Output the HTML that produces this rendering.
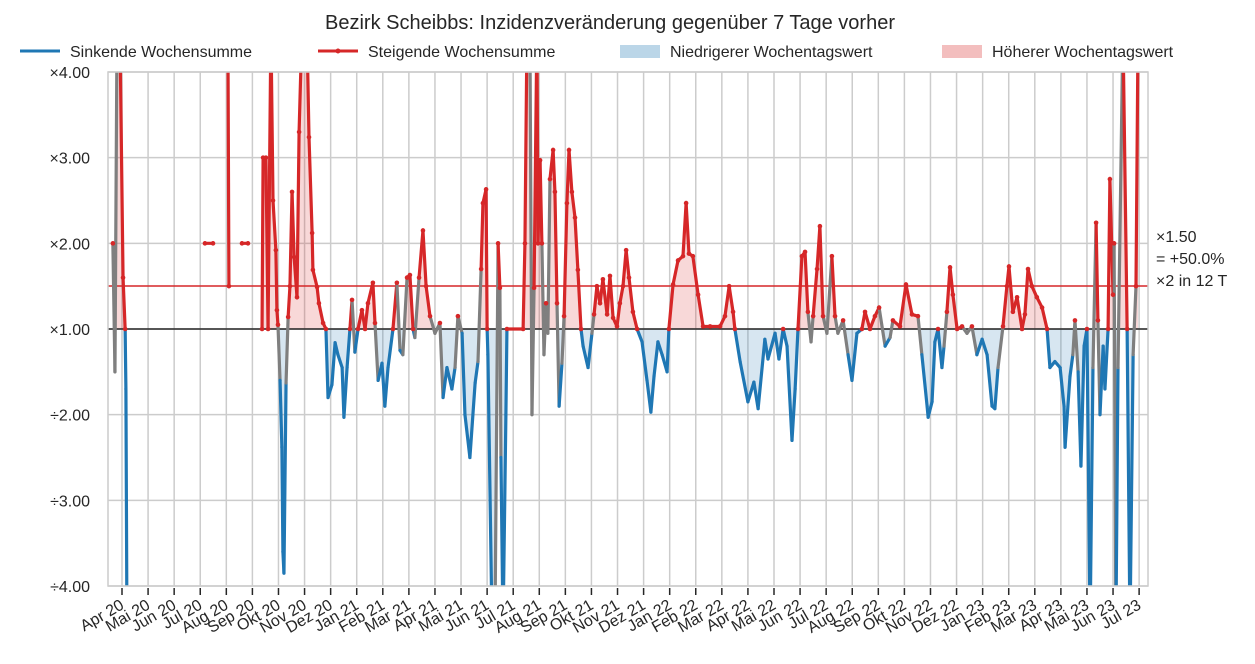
<!DOCTYPE html>
<html><head><meta charset="utf-8"><style>
body{margin:0;background:#fff;}
svg text{font-family:"Liberation Sans",sans-serif;fill:#262626;}
</style></head><body>
<svg id="chart" width="1255" height="659" viewBox="0 0 1255 659">
<defs>
<clipPath id="plotclip"><rect x="108" y="72" width="1040" height="514"/></clipPath>
<clipPath id="aboveclip"><rect x="108" y="72" width="1040" height="257"/></clipPath>
<clipPath id="belowclip"><rect x="108" y="329" width="1040" height="257"/></clipPath>
</defs>
<text x="610" y="29" font-size="20" text-anchor="middle">Bezirk Scheibbs: Inzidenzveränderung gegenüber 7 Tage vorher</text>
<g>
<g><line x1="20" y1="51" x2="60" y2="51" stroke="#1f77b4" stroke-width="3"/><text x="70" y="57" font-size="16">Sinkende Wochensumme</text></g>
<g><line x1="318" y1="51" x2="358" y2="51" stroke="#d62728" stroke-width="3"/><circle cx="338" cy="51" r="2.5" fill="#d62728"/><text x="368" y="57" font-size="16">Steigende Wochensumme</text></g>
<g><rect x="620" y="45" width="40" height="13" fill="#1f77b4" opacity="0.3"/><text x="670" y="57" font-size="16">Niedrigerer Wochentagswert</text></g>
<g><rect x="942" y="45" width="40" height="13" fill="#d62728" opacity="0.3"/><text x="992" y="57" font-size="16">Höherer Wochentagswert</text></g>
</g>
<g id="grid"></g>
<g id="areas" clip-path="url(#plotclip)"></g>
<line x1="108" y1="329" x2="1148" y2="329" stroke="#262626" stroke-width="1.5"/>
<line x1="108" y1="286" x2="1148" y2="286" stroke="#d62728" stroke-width="1.5"/>
<g id="series" clip-path="url(#plotclip)"></g>
<rect x="108" y="72" width="1040" height="514" fill="none" stroke="#cccccc" stroke-width="1.5"/>
<g id="axes"></g>
<g>
<text x="1156" y="242" font-size="16">×1.50</text>
<text x="1156" y="264" font-size="16">= +50.0%</text>
<text x="1156" y="286" font-size="16">×2 in 12 T</text>
</g>
</svg>
<script>
const monthLabels=["Apr 20","Mai 20","Jun 20","Jul 20","Aug 20","Sep 20","Okt 20","Nov 20","Dez 20","Jan 21","Feb 21","Mar 21","Apr 21","Mai 21","Jun 21","Jul 21","Aug 21","Sep 21","Okt 21","Nov 21","Dez 21","Jan 22","Feb 22","Mar 22","Apr 22","Mai 22","Jun 22","Jul 22","Aug 22","Sep 22","Okt 22","Nov 22","Dez 22","Jan 23","Feb 23","Mar 23","Apr 23","Mai 23","Jun 23","Jul 23"];
const yTickValues=[4,3,2,1,-2,-3,-4];
const yTickLabels=["×4.00","×3.00","×2.00","×1.00","÷2.00","÷3.00","÷4.00"];
// time in months since Apr 2020; null = gap
const times=[-0.35,-0.27,-0.19,-0.08,0.04,0.12,0.15,0.19,null,
3.18,3.49,null,4.06,4.1,null,4.6,4.83,null,
5.37,5.41,5.52,5.6,5.71,5.79,5.9,5.94,5.98,6.06,6.13,6.17,6.21,6.29,6.37,6.44,6.52,6.6,6.71,6.79,6.9,7.09,7.17,7.29,7.32,7.48,7.55,7.71,7.82,7.9,8.05,8.17,8.28,8.44,8.51,8.63,8.74,8.82,8.93,9.05,9.2,9.32,9.43,9.62,9.7,9.82,9.97,10.08,10.2,10.39,10.54,10.66,10.77,10.93,11.04,11.16,11.23,11.39,11.54,11.66,11.81,12.0,12.19,12.31,12.46,12.65,12.77,12.88,13.04,13.15,13.34,13.54,13.65,13.77,13.84,13.96,14.0,14.03,14.19,14.3,14.42,14.49,14.53,14.61,14.72,14.76,15.38,15.45,15.53,15.64,15.72,15.8,15.91,15.95,16.03,16.1,16.18,16.26,16.33,16.41,16.53,16.6,16.68,16.76,16.87,16.95,17.06,17.14,17.25,17.37,17.48,17.6,17.68,17.87,18.02,18.1,18.21,18.33,18.44,18.6,18.71,18.83,18.98,19.09,19.21,19.33,19.44,19.59,19.75,19.94,20.13,20.28,20.4,20.55,20.71,20.9,20.97,21.13,21.32,21.51,21.63,21.74,21.89,22.09,22.28,22.55,22.93,23.12,23.28,23.43,23.5,23.7,24.0,24.23,24.39,24.65,24.77,25.04,25.19,25.35,25.5,25.69,25.81,25.92,26.07,26.19,26.3,26.42,26.5,26.65,26.76,26.88,27.03,27.22,27.34,27.45,27.65,27.84,27.99,28.18,28.37,28.49,28.68,28.87,29.03,29.26,29.45,29.56,29.83,30.06,30.29,30.52,30.67,30.87,30.91,31.06,31.17,31.29,31.44,31.52,31.63,31.75,31.86,32.02,32.21,32.4,32.59,32.78,32.98,33.17,33.36,33.47,33.59,33.78,33.93,34.01,34.16,34.32,34.51,34.62,34.74,34.89,35.08,35.28,35.47,35.58,35.77,35.97,36.12,36.16,36.35,36.46,36.54,36.66,36.77,36.89,37.0,37.12,37.23,37.35,37.42,37.5,37.62,37.69,37.81,37.88,38.0,38.04,38.11,38.19,38.38,38.54,38.65,38.77,38.88,38.96];
// ratio: positive = ×r, negative = ÷|r|
const ratios=[2.0,-1.5,4.5,4.5,1.6,1.0,-1.7,-4.5,null,
2.0,2.0,null,4.5,1.5,null,2.0,2.0,null,
1.0,3.0,3.0,1.0,4.5,2.5,1.92,1.22,1.05,-1.6,-2.38,-3.6,-3.85,-1.63,1.14,1.5,2.6,1.84,1.37,3.3,4.5,4.5,3.24,2.12,1.69,1.49,1.3,1.07,1.0,-1.8,-1.65,-1.16,-1.3,-1.45,-2.03,-1.45,1.0,1.34,-1.27,1.0,1.22,1.0,1.3,1.54,1.07,-1.6,-1.4,-1.9,-1.45,1.0,1.54,-1.25,-1.3,1.6,1.63,1.0,-1.1,1.6,2.15,1.5,1.15,-1.05,1.07,-1.8,-1.45,-1.7,-1.45,1.15,-1.05,-2.0,-2.5,-1.63,-1.38,1.7,2.47,2.63,1.0,-1.3,-4.5,-4.5,2.0,1.48,-2.5,-4.5,-2.0,1.0,1.0,2.0,4.5,4.5,-2.0,1.48,4.5,2.0,2.97,2.0,-1.3,1.3,-1.05,2.75,3.09,2.6,1.3,-1.9,-1.4,1.15,2.47,3.09,2.6,2.3,1.69,1.0,-1.2,-1.45,-1.05,1.17,1.5,1.3,1.58,1.17,1.62,1.13,1.03,1.3,1.5,1.92,1.6,1.2,1.0,-1.15,-1.6,-1.97,-1.55,-1.15,-1.3,-1.5,1.0,1.52,1.8,1.85,2.47,1.88,1.85,1.4,1.03,1.03,1.03,1.15,1.5,1.2,1.0,-1.38,-1.85,-1.62,-1.93,-1.12,-1.35,-1.05,-1.35,1.0,-1.2,-2.3,-1.7,1.0,1.85,1.9,1.2,-1.15,1.15,1.7,2.2,1.15,-1.05,1.85,1.15,-1.05,1.1,-1.3,-1.6,-1.05,1.0,1.2,1.0,1.15,1.25,-1.2,-1.1,1.1,1.03,1.52,1.17,1.15,-1.3,-1.9,-2.03,-1.85,-1.15,1.0,-1.45,-1.2,1.2,1.72,1.4,1.0,1.03,-1.05,1.03,-1.3,-1.12,-1.3,-1.9,-1.93,-1.45,1.03,1.5,1.73,1.2,1.37,1.0,1.17,1.7,1.5,1.37,1.25,1.0,-1.45,-1.38,-1.45,-1.9,-2.38,-1.55,-1.3,1.1,-1.5,-2.6,-1.2,1.0,-4.5,-1.45,2.24,1.1,-2.0,-1.2,-1.7,1.0,2.75,1.4,2.0,-4.5,-1.45,4.5,1.0,-4.5,-1.3,1.5,4.5];

const NS="http://www.w3.org/2000/svg";
const X0=108,X1=1148,Y1=329,UNIT=85.67;
function xScale(t){return 122+t*26.08;}
function yScale(r){if(r>=1)return Y1-(r-1)*UNIT;return Y1+(-r-1)*UNIT;}
function mk(tag,attrs,parent){const e=document.createElementNS(NS,tag);for(const k in attrs)e.setAttribute(k,attrs[k]);parent.appendChild(e);return e;}
const grid=document.getElementById('grid'),axes=document.getElementById('axes'),series=document.getElementById('series'),areas=document.getElementById('areas');
monthLabels.forEach((lab,i)=>{
  const x=xScale(i);
  const gl=mk('line',{x1:x,y1:72,x2:x,y2:586,stroke:'#cccccc','stroke-width':1.5},grid);
  
  
  const tk=mk('line',{x1:x,y1:588,x2:x,y2:595,stroke:'#262626','stroke-width':1.5},axes);
  
  
  const tx=mk('text',{x:x+3,y:608,'font-size':16,'text-anchor':'end',transform:`rotate(-30 ${x+3} 608)`},axes);
  tx.textContent=lab;
  
  
});
yTickValues.forEach((v,i)=>{
  const y=yScale(v);
  const gl=mk('line',{x1:X0,y1:y,x2:X1,y2:y,stroke:'#cccccc','stroke-width':1.5},grid);
  
  
  const tx=mk('text',{x:90,y:y+6,'font-size':16,'text-anchor':'end'},axes);
  tx.textContent=yTickLabels[i];
  
  
});
let run=[];
function flushRun(){
  if(run.length>4){
    let d=`M${xScale(run[0][0])},${Y1}`;
    run.forEach(p=>{d+=`L${xScale(p[0])},${yScale(p[1])}`;});
    d+=`L${xScale(run[run.length-1][0])},${Y1}Z`;
    const a=mk('path',{d:d,fill:'#d62728',opacity:0.18,'clip-path':'url(#aboveclip)'},areas);
    
    
    const b=mk('path',{d:d,fill:'#1f77b4',opacity:0.18,'clip-path':'url(#belowclip)'},areas);
    
    
  }
  run=[];
}
for(let i=0;i<times.length;i++){if(times[i]===null){flushRun();}else run.push([times[i],ratios[i]]);}
flushRun();
for(let i=0;i<times.length-1;i++){
  if(times[i]===null||times[i+1]===null)continue;
  const a=ratios[i],b=ratios[i+1];
  let col;
  if(a>=1&&b>=1)col='#d62728';else if(a<=1&&b<=1)col='#1f77b4';else col='#7f7f7f';
  const s=mk('line',{x1:xScale(times[i]),y1:yScale(a),x2:xScale(times[i+1]),y2:yScale(b),stroke:col,'stroke-width':3.2,'stroke-linecap':'round'},series);
  
  
}
for(let i=0;i<times.length;i++){
  if(times[i]===null||ratios[i]<1)continue;
  const c=mk('circle',{cx:xScale(times[i]),cy:yScale(ratios[i]),r:2.3,fill:'#d62728'},series);
  
  
}
</script>
</body></html>
